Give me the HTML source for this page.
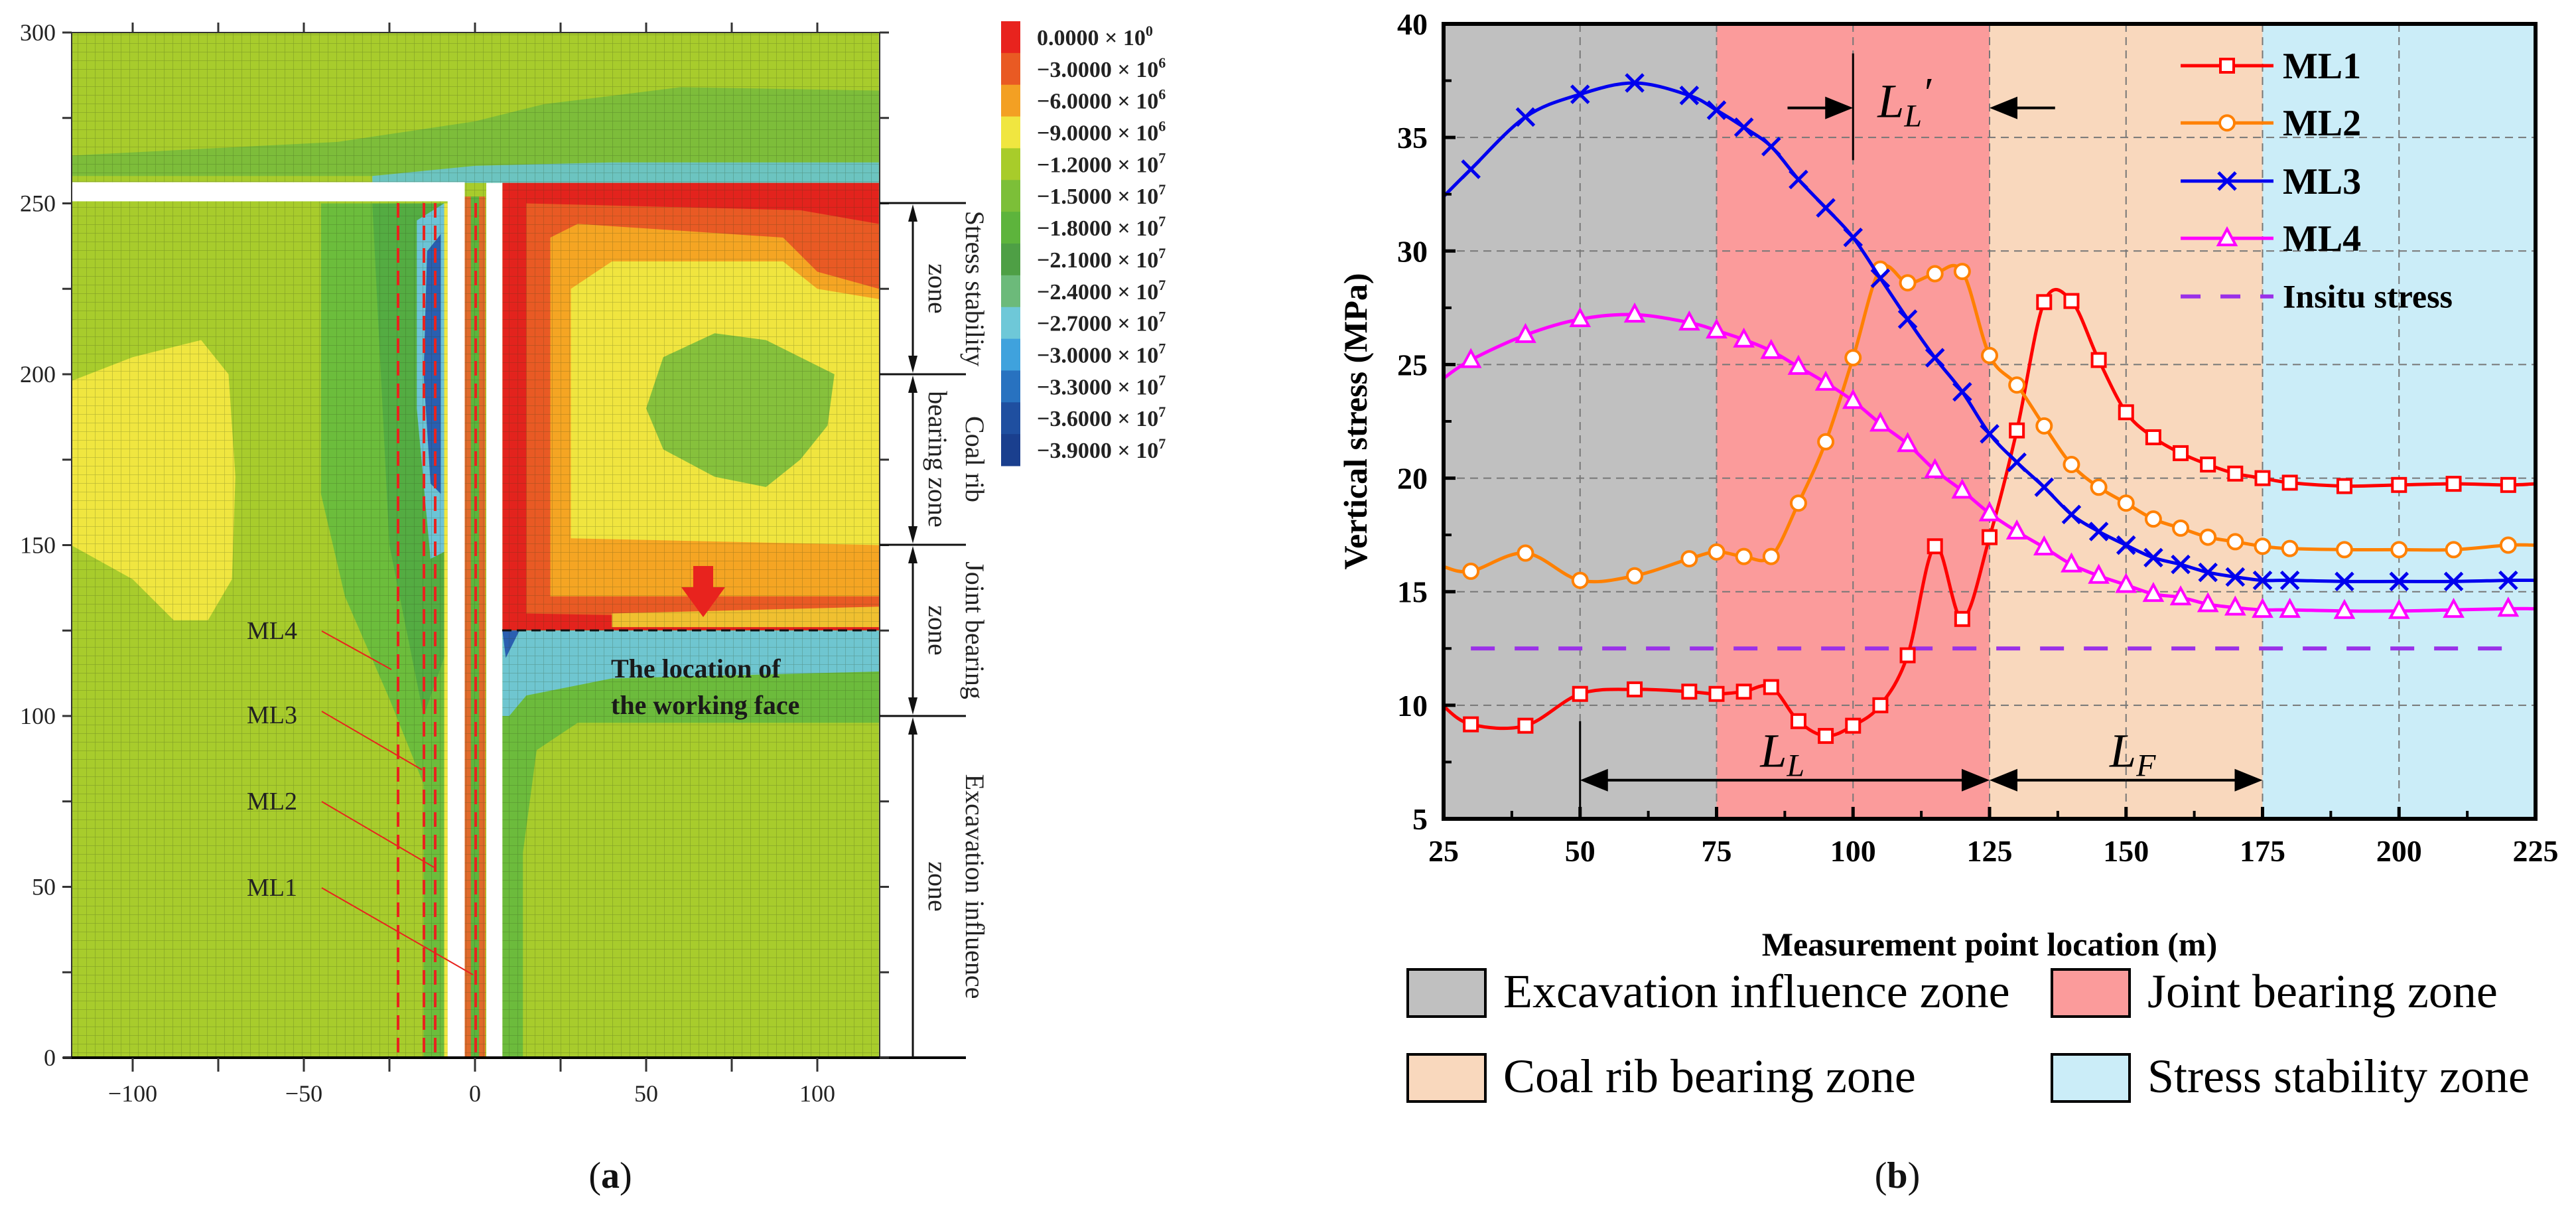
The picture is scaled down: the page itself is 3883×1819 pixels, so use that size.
<!DOCTYPE html>
<html><head><meta charset="utf-8"><style>
html,body{margin:0;padding:0;background:#fff;}
svg{display:block;}
.serif{font-family:"Liberation Serif",serif;}
</style></head><body>
<svg id="fig" width="3883" height="1819" viewBox="0 0 3883 1819" xmlns="http://www.w3.org/2000/svg" class="serif">
<defs>
<pattern id="mesh" width="13" height="13" patternUnits="userSpaceOnUse">
<path d="M0 0H13M0 0V13" stroke="rgba(40,60,20,0.3)" stroke-width="1.3" fill="none"/>
</pattern>
<clipPath id="clipA"><rect x="108" y="49" width="1218" height="1545"/></clipPath>
<clipPath id="clipB"><rect x="2176" y="36" width="1646" height="1198"/></clipPath>
</defs>

<!-- ================= PANEL A ================= -->
<g id="panelA">
<g clip-path="url(#clipA)">
<g transform="translate(716,1594) scale(5.16,-5.15)">
<rect x="-118" y="0" width="236" height="300" fill="#a8cc2c"/>
<polygon points="-118,258 118,258 118,283 60,284 20,279 0,274 -40,268 -118,264" fill="#7dbd3a"/>
<polygon points="-30,256 118,256 118,262 40,262 0,261 -30,258" fill="#6cc4c0"/>
<polygon points="-118,198 -100,205 -80,210 -72,200 -70,170 -71,140 -78,128 -88,128 -100,140 -118,150" fill="#f0e640"/>
<polygon points="-45,250 -8,250 -8,0 -15,0 -15,80 -25,105 -38,135 -45,165" fill="#6cbd3c"/>
<polygon points="-30,250 -8,250 -8,120 -15,100 -25,150" fill="#54ac42"/>
<polygon points="-17,245 -9,250 -9,148 -13,146 -17,190" fill="#6cc4d6"/>
<polygon points="-14,236 -10,241 -10,165 -13,168 -15,200" fill="#2a5fb0"/>
<rect x="-9" y="0" width="1" height="250" fill="#f0e640"/>
<rect x="-3" y="0" width="6" height="252" fill="#e06a2a"/>
<rect x="-1.2" y="0" width="2.4" height="252" fill="#5db43d"/>
<rect x="8" y="125" width="110" height="131" fill="#e3231d"/>
<polygon points="15,130 118,128 118,244 95,248 15,250" fill="#e95a24"/>
<polygon points="22,135 118,135 118,225 100,230 90,240 30,244 22,240" fill="#f5a523"/>
<polygon points="28,152 118,150 118,222 100,225 90,233 40,233 28,225" fill="#f0e53f"/>
<polygon points="50,190 55,205 70,212 85,210 95,205 105,200 103,185 95,175 85,167 70,170 55,178" fill="#86c13c"/>
<polygon points="40,130 118,132 118,126 40,126" fill="#f0c030"/>
<polygon points="8,125 118,125 118,98 30,98 18,90 14,60 14,0 8,0" fill="#6cbb3c"/>
<polygon points="8,125 118,125 118,113 40,111 15,106 10,100 8,100" fill="#6fc6d0"/>
<polygon points="8,125 13,125 9,117" fill="#2a5fb0"/>
</g>
<rect x="108" y="49" width="1218" height="1545" fill="url(#mesh)"/>
<g transform="translate(716,1594) scale(5.16,-5.15)">
<rect x="-120" y="250.6" width="117" height="5.6" fill="#fff"/>
<rect x="-8" y="0" width="5" height="256" fill="#fff"/>
<rect x="3.3" y="0" width="4.7" height="256" fill="#fff"/>
</g>
</g>
<rect x="108" y="49" width="1218" height="1545" fill="none" stroke="#333" stroke-width="2"/>
<line x1="95" y1="1594" x2="1456" y2="1594" stroke="#000" stroke-width="4"/>
<g id="axA" stroke="#333" stroke-width="3"></g>
<g id="axALabels" font-size="36" fill="#222"></g>

<g stroke="#e8231e" stroke-width="4" stroke-dasharray="22,12">
<line x1="600" y1="306" x2="600" y2="1594"/>
<line x1="639" y1="306" x2="639" y2="1594"/>
<line x1="656" y1="306" x2="656" y2="1594"/>
<line x1="717" y1="306" x2="717" y2="1594"/>
</g>
<g stroke="#e8231e" stroke-width="2">
<line x1="485" y1="951" x2="590" y2="1009"/>
<line x1="485" y1="1072" x2="636" y2="1160"/>
<line x1="485" y1="1208" x2="654" y2="1307"/>
<line x1="485" y1="1338" x2="713" y2="1469"/>
</g>
<g font-size="38" fill="#222">
<text x="372" y="963">ML4</text>
<text x="372" y="1090">ML3</text>
<text x="372" y="1220">ML2</text>
<text x="372" y="1350">ML1</text>
</g>
<line x1="757" y1="950" x2="1326" y2="950" stroke="#111" stroke-width="3" stroke-dasharray="14,8"/>
<polygon points="1045,853 1075,853 1075,885 1093,885 1060,930 1027,885 1045,885" fill="#e8231e"/>
<text x="921" y="1021" font-size="40" font-weight="bold" fill="#1a1a1a">The location of</text>
<text x="921" y="1076" font-size="40" font-weight="bold" fill="#1a1a1a">the working face</text>

<g stroke="#111" stroke-width="3">
<line x1="1326" y1="306" x2="1456" y2="306"/>
<line x1="1326" y1="564" x2="1456" y2="564"/>
<line x1="1326" y1="821" x2="1456" y2="821"/>
<line x1="1326" y1="1079" x2="1456" y2="1079"/>
<line x1="1376" y1="320" x2="1376" y2="550"/>
<line x1="1376" y1="578" x2="1376" y2="807"/>
<line x1="1376" y1="835" x2="1376" y2="1065"/>
<line x1="1376" y1="1093" x2="1376" y2="1594"/>
</g>
<g fill="#111">
<polygon points="1376,308 1369,334 1383,334"/><polygon points="1376,562 1369,536 1383,536"/>
<polygon points="1376,566 1369,592 1383,592"/><polygon points="1376,819 1369,793 1383,793"/>
<polygon points="1376,823 1369,849 1383,849"/><polygon points="1376,1077 1369,1051 1383,1051"/>
<polygon points="1376,1081 1369,1107 1383,1107"/>
</g>
<g font-size="40" fill="#222" text-anchor="middle">
<text transform="translate(1456,435) rotate(90)">Stress stability</text>
<text transform="translate(1400,435) rotate(90)">zone</text>
<text transform="translate(1456,692) rotate(90)">Coal rib</text>
<text transform="translate(1400,692) rotate(90)">bearing zone</text>
<text transform="translate(1456,950) rotate(90)">Joint bearing</text>
<text transform="translate(1400,950) rotate(90)">zone</text>
<text transform="translate(1456,1336) rotate(90)">Excavation influence</text>
<text transform="translate(1400,1336) rotate(90)">zone</text>
</g>

<g id="cbar"></g>
<text x="920" y="1790" font-size="56" text-anchor="middle" fill="#111">(<tspan font-weight="bold">a</tspan>)</text>
</g>

<!-- ================= PANEL B ================= -->
<g id="panelB">
<g id="zones" clip-path="url(#clipB)"></g>
<g id="gridB"></g>
<g id="seriesB" clip-path="url(#clipB)"></g>
<g id="annB"></g>
<g id="legendB"></g>
<rect x="2176" y="36" width="1646" height="1198" fill="none" stroke="#000" stroke-width="6"/>
<g id="axB"></g>
<text transform="translate(2060,635) rotate(-90)" font-size="50" font-weight="bold" text-anchor="middle">Vertical stress (MPa)</text>
<text x="2999" y="1440" font-size="50" font-weight="bold" text-anchor="middle">Measurement point location (m)</text>
<g id="zoneLegend"></g>
<text x="2860" y="1790" font-size="56" text-anchor="middle" fill="#111">(<tspan font-weight="bold">b</tspan>)</text>
</g>
</svg>
<script>
// ---------- Panel B data ----------
const xPos = [25,30,40,50,60,70,75,80,85,90,95,100,105,110,115,120,125,130,135,140,145,150,155,160,165,170,175,180,190,200,210,220,225];
const ml1 = [9.95,9.16,9.1,10.5,10.7,10.6,10.5,10.6,10.8,9.3,8.65,9.1,10.0,12.2,17.0,13.8,17.4,22.1,27.75,27.8,25.2,22.9,21.8,21.1,20.6,20.2,20.0,19.8,19.65,19.7,19.75,19.7,19.75];
const ml2 = [16.1,15.9,16.7,15.5,15.7,16.45,16.75,16.55,16.55,18.9,21.6,25.3,29.2,28.6,29.0,29.1,25.4,24.1,22.3,20.6,19.6,18.9,18.2,17.8,17.4,17.2,17.0,16.9,16.85,16.85,16.85,17.05,17.05];
const ml3 = [32.4,33.6,35.9,36.9,37.4,36.85,36.2,35.45,34.6,33.15,31.9,30.6,28.8,27.0,25.3,23.8,21.95,20.7,19.6,18.4,17.65,17.05,16.5,16.2,15.85,15.65,15.5,15.5,15.45,15.45,15.45,15.5,15.5];
const ml4 = [24.4,25.2,26.3,27.0,27.2,26.85,26.5,26.1,25.6,24.9,24.2,23.4,22.4,21.5,20.35,19.45,18.45,17.65,16.95,16.2,15.7,15.3,14.9,14.75,14.45,14.3,14.2,14.2,14.15,14.15,14.2,14.25,14.25];
const insitu = [12.5];
const insituRange = [30,220];
const xTicks = [25,50,75,100,125,150,175,200,225];
const yTicks = [5,10,15,20,25,30,35,40];
const zoneStarts = [25,75,125,175];
const zoneEnds = [75,125,175,225];
const zoneNames = ["Excavation influence zone","Joint bearing zone","Coal rib bearing zone","Stress stability zone"];
const zoneColors = ["#c0c0c0","#fb9b9b","#f9d8bd","#cbedf8"];
// ---------- Panel A data ----------
const cbarLabels = ["0.0000","-3.0000","-6.0000","-9.0000","-1.2000","-1.5000","-1.8000","-2.1000","-2.4000","-2.7000","-3.0000","-3.3000","-3.6000","-3.9000"];
const cbarExps = ["0","6","6","6","7","7","7","7","7","7","7","7","7","7"];
const cbarColors = ["#e8231e","#e95a23","#f3a023","#f0e640","#a8cc2a","#7cbf38","#5db43c","#4e9f45","#6cba7a","#6ec8d8","#3fa2dd","#2872c0","#1f4fa0","#1a3f8e"];
const aXTicks = [-100,-50,0,50,100];
const aYTicks = [0,50,100,150,200,250,300];

const NS="http://www.w3.org/2000/svg";
function mk(tag,attrs,parent){const e=document.createElementNS(NS,tag);for(const k in attrs)e.setAttribute(k,attrs[k]);if(parent)parent.appendChild(e);return e;}
const X=v=>2176+(v-25)*1646/200;
const Y=v=>1234-(v-5)*1198/35;
const AX=u=>716+u*5.16;
const AY=v=>1594-v*5.15;

const axA=document.getElementById('axA'), axAL=document.getElementById('axALabels');
for(let u=-100;u<=100;u+=25){
  const t=mk('line',{x1:AX(u),y1:1594,x2:AX(u),y2:1615},axA);
  
  
  mk('line',{x1:AX(u),y1:49,x2:AX(u),y2:34},axA);
}
for(let v=0;v<=300;v+=25){
  mk('line',{x1:108,y1:AY(v),x2:94,y2:AY(v)},axA);
  mk('line',{x1:1326,y1:AY(v),x2:1340,y2:AY(v)},axA);
}
aXTicks.forEach(u=>{const t=mk('text',{x:AX(u),y:1660,'text-anchor':'middle'},axAL);t.textContent=(u<0?'\u2212':'')+Math.abs(u);
  
  });
aYTicks.forEach(v=>{const t=mk('text',{x:84,y:AY(v)+12,'text-anchor':'end'},axAL);t.textContent=v;
  
  });

const cb=document.getElementById('cbar');
const bh=670/cbarColors.length;
cbarColors.forEach((c,i)=>{const r=mk('rect',{x:1509,y:32+i*bh,width:29,height:bh+0.5,fill:c},cb);
  
  });
cbarLabels.forEach((l,i)=>{const t=mk('text',{x:1563,y:32+i*bh+bh/2+12,'font-size':34,'font-weight':'bold',fill:'#222'},cb);
  t.textContent=l.replace('-','\u2212')+' \u00d7 10';
  const s=mk('tspan',{dy:-14,'font-size':22},t);s.textContent=cbarExps[i];
  
  });

const zg=document.getElementById('zones');
zoneStarts.forEach((s,i)=>{const r=mk('rect',{x:X(s),y:36,width:X(zoneEnds[i])-X(s),height:1198,fill:zoneColors[i]},zg);
  
  });
const gg=document.getElementById('gridB');
xTicks.slice(1,-1).forEach(v=>{const l=mk('line',{x1:X(v),y1:36,x2:X(v),y2:1234,stroke:'#777',"stroke-width":2,"stroke-dasharray":"12,8"},gg);
  
  });
yTicks.slice(1,-1).forEach(v=>{const l=mk('line',{x1:2176,y1:Y(v),x2:3822,y2:Y(v),stroke:'#777',"stroke-width":2,"stroke-dasharray":"12,8"},gg);
  
  });
const ab=document.getElementById('axB');
xTicks.forEach(v=>{
  mk('line',{x1:X(v),y1:1234,x2:X(v),y2:1216,stroke:'#000','stroke-width':5},ab);
  const t=mk('text',{x:X(v),y:1298,'text-anchor':'middle','font-size':46,'font-weight':'bold'},ab);t.textContent=v;
  
  
});
for(let v=37.5;v<225;v+=25) mk('line',{x1:X(v),y1:1234,x2:X(v),y2:1222,stroke:'#000','stroke-width':4},ab);
yTicks.forEach(v=>{
  mk('line',{x1:2176,y1:Y(v),x2:2194,y2:Y(v),stroke:'#000','stroke-width':5},ab);
  const t=mk('text',{x:2152,y:Y(v)+16,'text-anchor':'end','font-size':46,'font-weight':'bold'},ab);t.textContent=v;
  
  
});
for(let v=7.5;v<40;v+=5) mk('line',{x1:2176,y1:Y(v),x2:2188,y2:Y(v),stroke:'#000','stroke-width':4},ab);

function smooth(xs,ys){
  const p=xs.map((x,i)=>[X(x),Y(ys[i])]);
  let d='M'+p[0][0]+' '+p[0][1];
  for(let i=0;i<p.length-1;i++){
    const p0=p[Math.max(0,i-1)],p1=p[i],p2=p[i+1],p3=p[Math.min(p.length-1,i+2)];
    const c1=[p1[0]+(p2[0]-p0[0])/6,p1[1]+(p2[1]-p0[1])/6];
    const c2=[p2[0]-(p3[0]-p1[0])/6,p2[1]-(p3[1]-p1[1])/6];
    d+=` C${c1[0]} ${c1[1]} ${c2[0]} ${c2[1]} ${p2[0]} ${p2[1]}`;
  }
  return d;
}
function marker(g,type,cx,cy,col){
  let m;
  if(type==='sq') m=mk('rect',{x:cx-10,y:cy-10,width:20,height:20,fill:'#fff',stroke:col,'stroke-width':4},g);
  else if(type==='ci') m=mk('circle',{cx:cx,cy:cy,r:11,fill:'#fff',stroke:col,'stroke-width':4},g);
  else if(type==='x') m=mk('path',{d:`M${cx-13} ${cy-13}L${cx+13} ${cy+13}M${cx-13} ${cy+13}L${cx+13} ${cy-13}`,stroke:col,'stroke-width':5,fill:'none'},g);
  else m=mk('polygon',{points:`${cx},${cy-14} ${cx+13},${cy+10} ${cx-13},${cy+10}`,fill:'#fff',stroke:col,'stroke-width':4},g);
  return m;
}
const sg=document.getElementById('seriesB');
const ins=mk('line',{x1:X(insituRange[0]),y1:Y(insitu[0]),x2:X(insituRange[1]),y2:Y(insitu[0]),stroke:'#9a30e8','stroke-width':6,'stroke-dasharray':'36,30'},sg);


const series=[[ml1,'#ff0000','sq','ml1'],[ml2,'#ff8000','ci','ml2'],[ml3,'#0000ee','x','ml3'],[ml4,'#ff00ff','tr','ml4']];
series.forEach(([ys,col,mt,nm])=>{
  const g=mk('g',{},sg);
  
  
  const p=mk('path',{d:smooth(xPos,ys),fill:'none',stroke:col,'stroke-width':5},g);
  
  
  xPos.forEach((x,i)=>{if(x===25||x===225)return;const m=marker(g,mt,X(x),Y(ys[i]),col);
    
    });
});

const an=document.getElementById('annB');
function arrowH(x1,x2,y){
  const dir=Math.sign(x2-x1);
  mk('line',{x1:x1,y1:y,x2:x2-dir*40,y2:y,stroke:'#000','stroke-width':4},an);
  mk('polygon',{points:`${x2},${y} ${x2-dir*42},${y-17} ${x2-dir*42},${y+17}`,fill:'#000'},an);
}
mk('line',{x1:X(100),y1:Y(38.7),x2:X(100),y2:Y(34),stroke:'#000','stroke-width':3},an);
arrowH(X(88),X(100),Y(36.3));
arrowH(X(137),X(125),Y(36.3));
mk('line',{x1:X(50),y1:Y(9.3),x2:X(50),y2:Y(5),stroke:'#000','stroke-width':3},an);
arrowH(X(88),X(50),Y(6.7)); arrowH(X(88),X(125),Y(6.7));
arrowH(X(150),X(125),Y(6.7)); arrowH(X(150),X(175),Y(6.7));
function lab(x,y,sub,prime,name){
  const t=mk('text',{x:X(x),y:Y(y),'font-size':72,'font-style':'italic'},an);
  t.textContent='L';
  const s=mk('tspan',{dy:14,'font-size':48},t);s.textContent=sub;
  if(prime){const q=mk('tspan',{dy:-30,'font-size':64},t);q.textContent='\u2032';}
  
  
}
lab(104.5,35.9,'L',true,'ll-prime-label');
lab(83,7.3,'L',false,'ll-label');
lab(147,7.3,'F',false,'lf-label');

const lg=document.getElementById('legendB');
const legNames=['ML1','ML2','ML3','ML4','Insitu stress'];
const legY=[38.16,35.64,33.08,30.56,28.0];
series.forEach(([ys,col,mt,nm],i)=>{
  const e=mk('g',{},lg);
  
  
  mk('line',{x1:X(160),y1:Y(legY[i]),x2:X(177),y2:Y(legY[i]),stroke:col,'stroke-width':5},e);
  marker(e,mt,X(168.5),Y(legY[i]),col);
  const t=mk('text',{x:X(178.7),y:Y(legY[i])+19,'font-size':56,'font-weight':'bold'},e);t.textContent=legNames[i];
});
const e5=mk('g',{},lg);


mk('line',{x1:X(160),y1:Y(legY[4]),x2:X(177),y2:Y(legY[4]),stroke:'#9a30e8','stroke-width':6,'stroke-dasharray':'30,30'},e5);
const t5=mk('text',{x:X(178.7),y:Y(legY[4])+17,'font-size':50,'font-weight':'bold'},e5);t5.textContent=legNames[4];

const zl=document.getElementById('zoneLegend');
const zlX=[2122,3093,2122,3093], zlY=[1461,1461,1589,1589];
[0,1,2,3].forEach(i=>{
  const e=mk('g',{},zl);
  
  
  mk('rect',{x:zlX[i],y:zlY[i],width:117,height:71,fill:zoneColors[i],stroke:'#000','stroke-width':4},e);
  const t=mk('text',{x:zlX[i]+144,y:zlY[i]+57,'font-size':72},e);t.textContent=zoneNames[i];
});
</script>
</body></html>
